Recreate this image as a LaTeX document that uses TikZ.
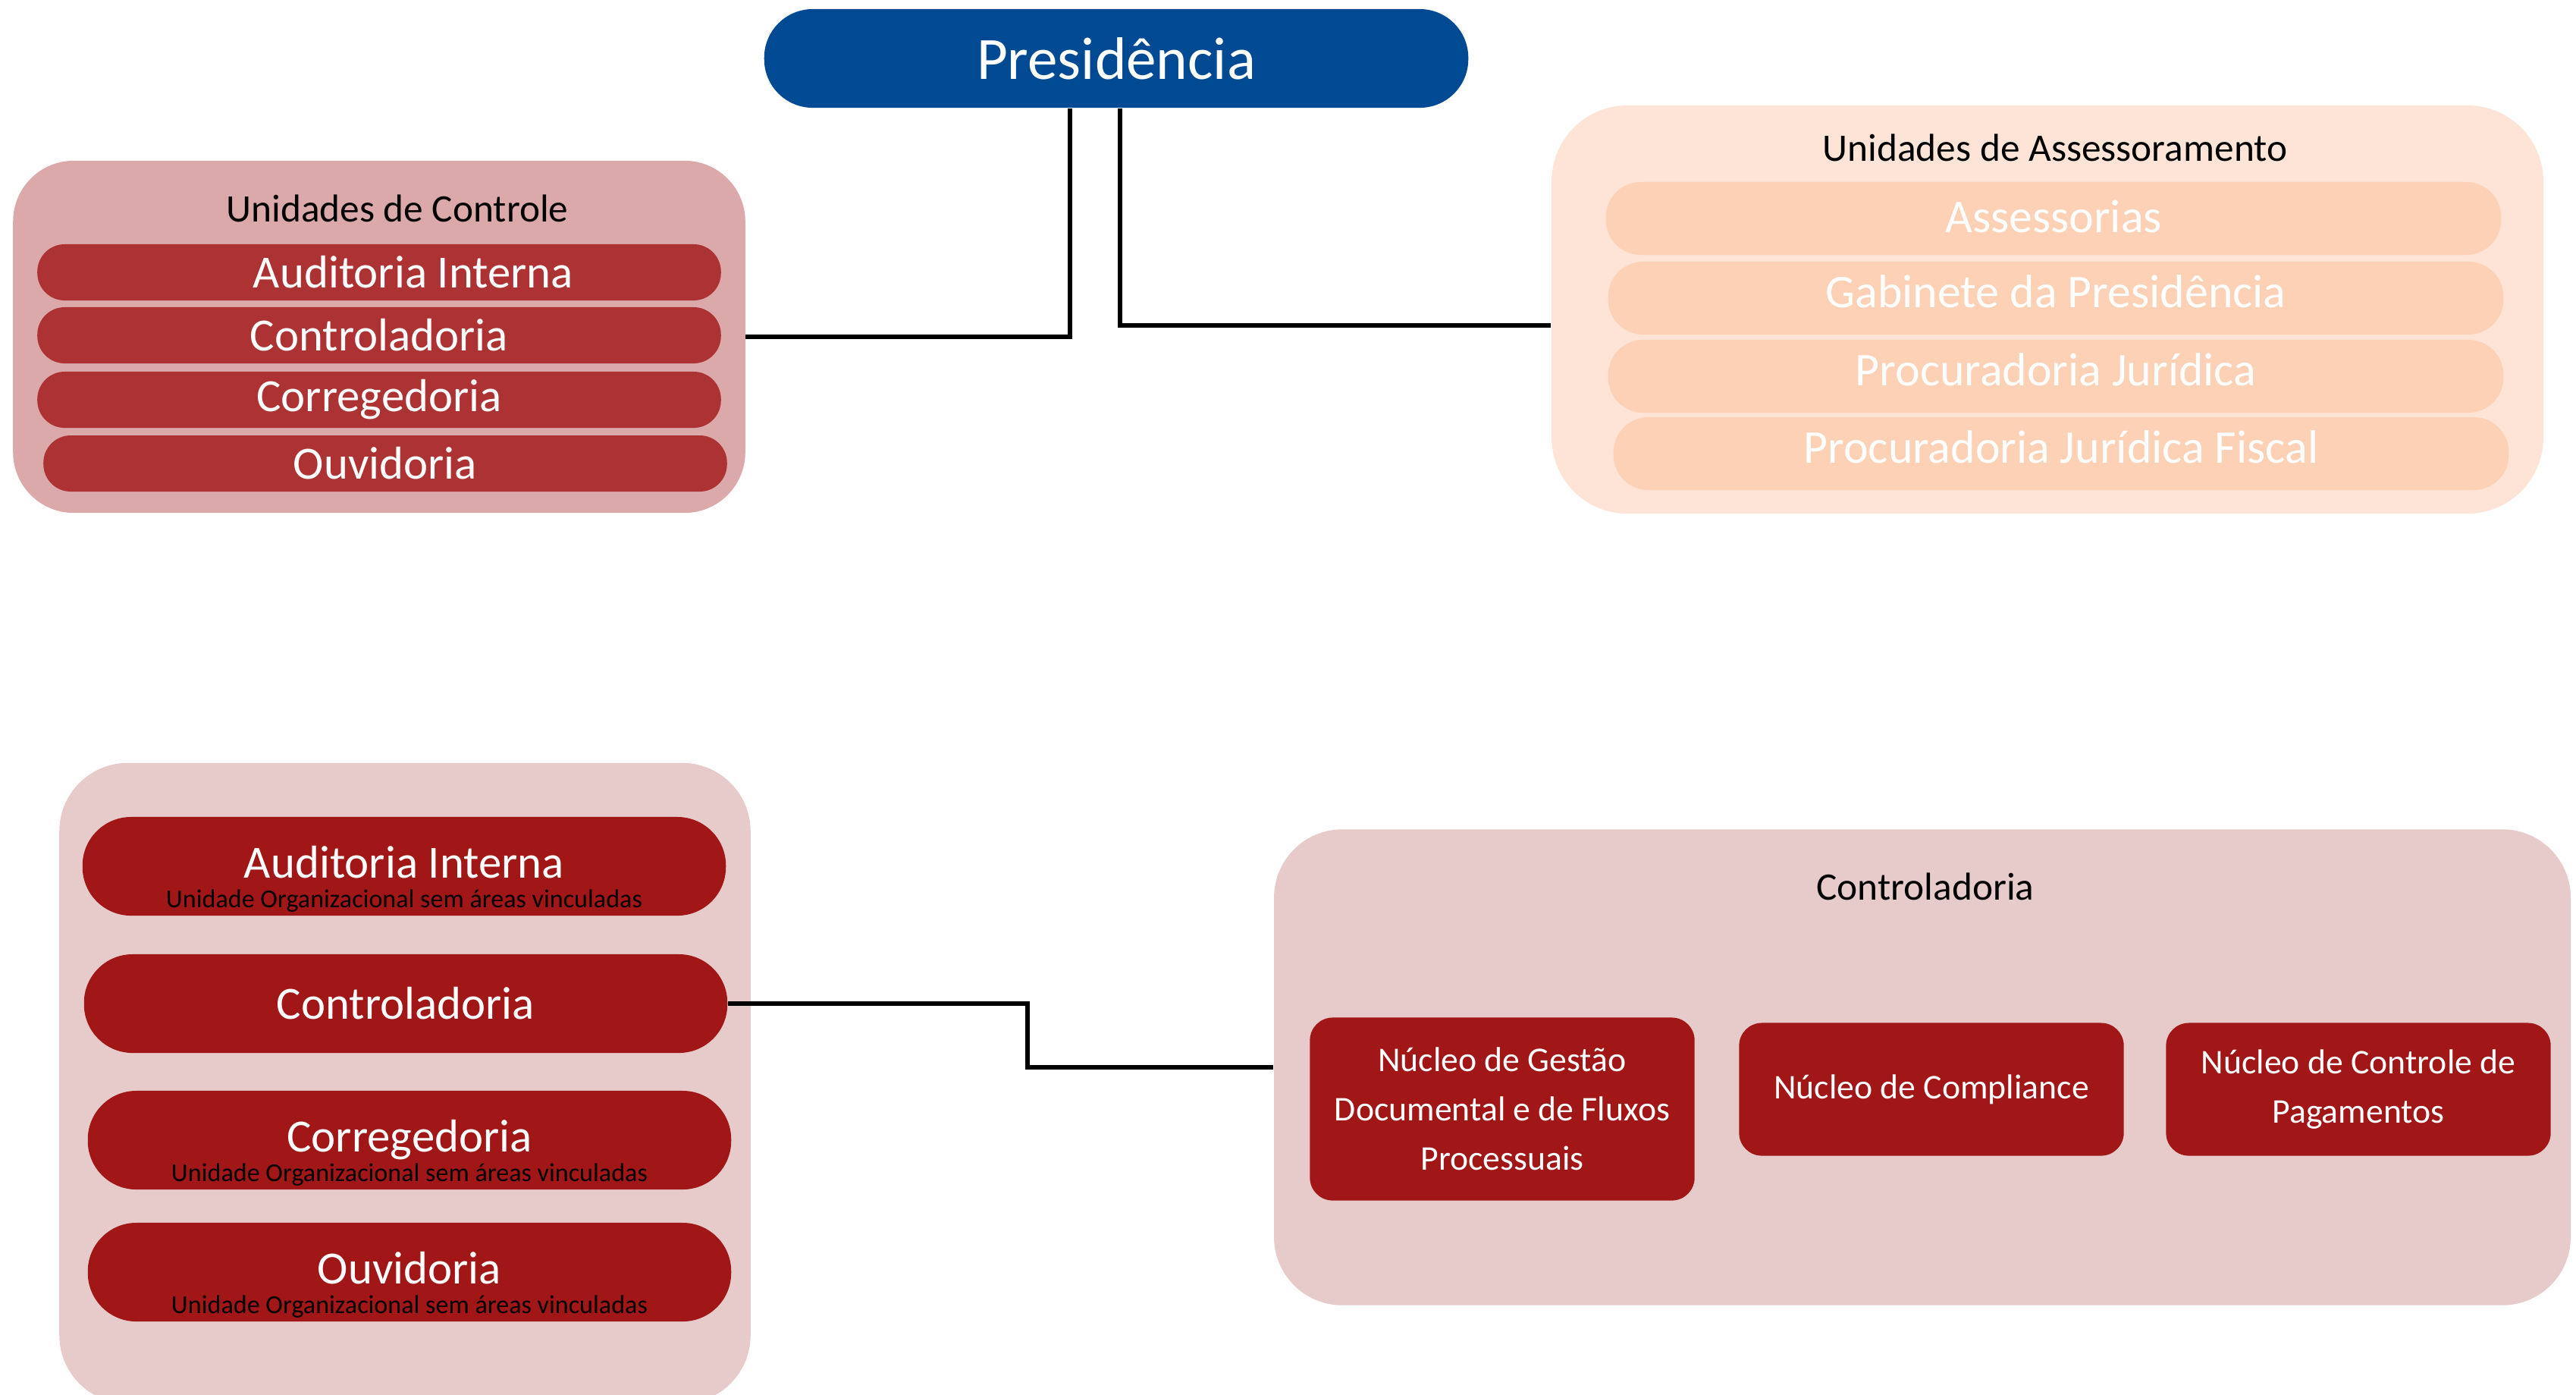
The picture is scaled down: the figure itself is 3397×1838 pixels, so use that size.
\documentclass[tikz,border=0pt]{standalone}
\usepackage{fontspec}
\setmainfont{Carlito}
\usepackage{xcolor}
\usepackage{tikz}
\definecolor{presblue}{RGB}{0,74,148}
\definecolor{ctrlouter}{RGB}{219,169,169}
\definecolor{ctrlbar}{RGB}{173,50,51}
\definecolor{assouter}{RGB}{253,228,214}
\definecolor{assbar}{RGB}{252,209,182}
\definecolor{detouter}{RGB}{231,203,203}
\definecolor{detbar}{RGB}{161,22,23}
\pgfkeys{tikz/mygroup/.style={rectangle,inner sep=0pt,rounded corners=0.9cm}}
\pgfkeys{tikz/mybar/.style={rectangle,inner sep=0pt,text=white,align=center}}
\pgfkeys{tikz/mytitle/.style={anchor=base,font=\fontsize{14.6}{17}\selectfont}}
\pgfkeys{tikz/mytopbar/.style={mybar,fill=ctrlbar,minimum width=9.01cm,minimum height=0.74cm,rounded corners=0.36cm,font=\fontsize{17.3}{20}\selectfont}}
\pgfkeys{tikz/myassbar/.style={mybar,fill=assbar,minimum width=11.8cm,minimum height=0.96cm,rounded corners=0.46cm,font=\fontsize{17.6}{20}\selectfont,text height=12pt,text depth=5pt}}
\pgfkeys{tikz/mydetbar/.style={mybar,fill=detbar,minimum width=8.48cm,minimum height=1.3cm,rounded corners=0.64cm,font=\fontsize{17.3}{11}\selectfont}}
\pgfkeys{tikz/mynucleo/.style={mybar,fill=detbar,minimum width=5.07cm,rounded corners=0.3cm,font=\fontsize{13}{18.5}\selectfont}}
\pgfkeys{tikz/myline/.style={line width=1.7pt}}
\newcommand\mysubfont{\fontsize{9.7}{11}\selectfont\color{black}}
\newcommand*\myunitbar[3]{
    \node[mydetbar,text height=32.5pt] (#1) at (#2) {#3\\{\mysubfont Unidade Organizacional sem áreas vinculadas}};
}

\begin{document}
\begin{tikzpicture}[x=0.01cm,y=-0.01cm]
    \useasboundingbox (0,0) rectangle (3397,1838);
    \clip (0,0) rectangle (3397,1838);

    \node[mybar,fill=presblue,minimum width=9.28cm,minimum height=1.3cm,rounded corners=0.64cm,font=\fontsize{22.5}{27}\selectfont] (presid) at (1472,77) {Presidência};

    % Unidades de Controle
    \node[mygroup,fill=ctrlouter,minimum width=9.65cm,minimum height=4.64cm,rounded corners=0.8cm] (ctrlgrp) at (500,444) {};
    \node[mytitle] (ctrltitle) at (524,292) {Unidades de Controle};
    \node[mytopbar] (audit) at (500,359) {\hspace*{0.9cm}Auditoria Interna};
    \node[mytopbar] (ctrl) at (500,442) {Controladoria};
    \node[mytopbar] (corr) at (500,527) {Corregedoria};
    \node[mytopbar] (ouv) at (508,611) {Ouvidoria};

    % Unidades de Assessoramento
    \node[mygroup,fill=assouter,minimum width=13.07cm,minimum height=5.38cm,rounded corners=1cm] (asgrp) at (2700,408) {};
    \node[mytitle] (astitle) at (2710,212) {Unidades de Assessoramento};
    \node[myassbar,text depth=1.5pt] (asses) at (2708,288) {Assessorias};
    \node[myassbar] (gab) at (2711,393) {Gabinete da Presidência};
    \node[myassbar] (procjur) at (2711,496) {Procuradoria Jurídica};
    \node[myassbar] (procfisc) at (2718,598) {Procuradoria Jurídica Fiscal};

    \draw[myline] (ctrlgrp.east) -| ([xshift=-0.61cm]presid.south);
    \draw[myline] ([xshift=0.05cm]presid.south) |- ([yshift=-0.21cm]asgrp.west);

    % detalhe das unidades de controle
    \node[mygroup,fill=detouter,minimum width=9.11cm,minimum height=8.44cm] (detgrp) at (534,1428) {};
    \myunitbar{audit2}{533,1142}{Auditoria Interna}
    \node[mydetbar] (ctrl2) at (535,1323) {Controladoria};
    \myunitbar{corr2}{540,1503}{Corregedoria}
    \myunitbar{ouv2}{540,1677}{Ouvidoria}

    % Controladoria
    \node[mygroup,fill=detouter,minimum width=17.09cm,minimum height=6.27cm] (ctrlbig) at (2535,1407) {};
    \node[mytitle] (ctrlbigtitle) at (2539,1186) {Controladoria};
    \node[mynucleo,minimum height=2.41cm] (nucgest) at (1981,1462) {Núcleo de Gestão\\Documental e de Fluxos\\Processuais};
    \node[mynucleo,minimum height=1.75cm] (nuccomp) at (2547,1436) {Núcleo de Compliance};
    \node[mynucleo,minimum height=1.75cm] (nucpag) at (3110,1436) {Núcleo de Controle de\\Pagamentos};

    \draw[myline] (ctrl2.east) -- ++(395,0) |- (ctrlbig.west);
\end{tikzpicture}
\end{document}
